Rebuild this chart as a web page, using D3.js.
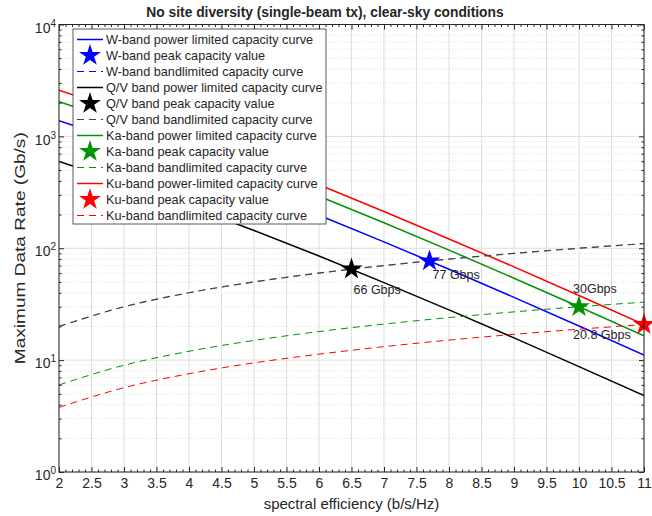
<!DOCTYPE html>
<html><head><meta charset="utf-8">
<script src="https://cdn.jsdelivr.net/npm/d3@7"></script>
<style>body{margin:0;background:#fff} text{font-family:"Liberation Sans",Arial,Helvetica,sans-serif;fill:#262626}</style>
</head><body><svg id="c" width="652" height="516"></svg>
<script>
// ---- data ----
const xValues = [2, 3, 4, 5, 6, 7, 8, 9, 10, 11];
const wPower   = [1379, 887, 552, 334, 197, 114, 64.9, 36.4, 20.2, 11.1];
const wBand    = [20, 30, 40, 50, 60, 70, 80, 90, 100, 110];
const qvPower  = [597, 384, 239, 144, 85.2, 49.3, 28.1, 15.8, 8.75, 4.81];
const qvBand   = [20, 30, 40, 50, 60, 70, 80, 90, 100, 110];
const kaPower  = [2046, 1315, 818, 495, 292, 169, 96.3, 54.0, 30.0, 16.5];
const kaBand   = [6, 9, 12, 15, 18, 21, 24, 27, 30, 33];
const kuPower  = [2581, 1659, 1032, 624, 369, 213, 121, 68.2, 37.8, 20.8];
const kuBand   = [3.78, 5.67, 7.56, 9.45, 11.3, 13.2, 15.1, 17.0, 18.9, 20.8];
const bandNames = ["W-band", "Q/V band", "Ka-band", "Ku-band"];
const bandColors = ["#0000ff", "#000000", "#009400", "#ff0000"];
const dashColors = ["#0000ff", "#444444", "#009400", "#ff0000"];
const peakX = [7.7, 6.5, 10, 11];
const peakY = [77, 65, 30, 20.8];
const peakLabels = ["77 Gbps", "66 Gbps", "30Gbps", "20.8 Gbps"];
const legendLabels = [
  "W-band power limited capacity curve", "W-band peak capacity value", "W-band bandlimited capacity curve",
  "Q/V band power limited capacity curve", "Q/V band peak capacity value", "Q/V band bandlimited capacity curve",
  "Ka-band power limited capacity curve", "Ka-band peak capacity value", "Ka-band bandlimited capacity curve",
  "Ku-band power-limited capacity curve", "Ku-band peak capacity value", "Ku-band bandlimited capacity curve"];
const xTicks = [2, 2.5, 3, 3.5, 4, 4.5, 5, 5.5, 6, 6.5, 7, 7.5, 8, 8.5, 9, 9.5, 10, 10.5, 11];
const yTicks = [1, 10, 100, 1000, 10000];
const titleText = "No site diversity (single-beam tx), clear-sky conditions";
const xLabel = "spectral efficiency (b/s/Hz)";
const yLabel = "Maximum Data Rate (Gb/s)";

// ---- layout ----
const L = 59, R = 644, T = 24.5, B = 472;
const svg = d3.select("#c");
const x = d3.scaleLinear([2, 11], [L, R]);
const y = d3.scaleLog([1, 1e4], [B, T]);

const minorY = [];
for (let e = 0; e < 4; e++) for (let d = 2; d <= 9; d++) minorY.push(d * Math.pow(10, e));
const minorX = d3.range(2, 11.0001, 0.1).map(v => +v.toFixed(2)).filter(v => !xTicks.some(t => Math.abs(t - v) < 1e-6));

// grid
const grid = svg.append("g");
grid.selectAll(".gy2").data(minorY).join("line")
  .attr("x1", L).attr("x2", R).attr("y1", d => y(d)).attr("y2", d => y(d))
  .attr("stroke", "#d4d4d4").attr("stroke-width", 0.8).attr("stroke-dasharray", "1,2");
grid.selectAll(".gy").data(yTicks).join("line")
  .attr("x1", L).attr("x2", R).attr("y1", d => y(d)).attr("y2", d => y(d))
  .attr("stroke", "#dedede").attr("stroke-width", 1);
grid.selectAll(".gx").data(xTicks).join("line")
  .attr("y1", T).attr("y2", B).attr("x1", d => x(d)).attr("x2", d => x(d))
  .attr("stroke", "#dedede").attr("stroke-width", 1);

svg.append("clipPath").attr("id", "clip").append("rect").attr("x", L).attr("y", T).attr("width", R - L).attr("height", B - T);
const plot = svg.append("g").attr("clip-path", "url(#clip)");

const line = d3.line().x((d, i) => x(xValues[i])).y(d => y(d));
const curvedLine = d3.line().x((d, i) => x(xValues[i])).y(d => y(d)).curve(d3.curveMonotoneX);
const powerSeries = [wPower, qvPower, kaPower, kuPower];
const bandSeries = [wBand, qvBand, kaBand, kuBand];

powerSeries.forEach((s, i) => {
  plot.append("path").attr("d", line(s)).attr("fill", "none")
    .attr("stroke", bandColors[i]).attr("stroke-width", 1.5);
});
bandSeries.forEach((s, i) => {
  plot.append("path").attr("d", curvedLine(s)).attr("fill", "none")
    .attr("stroke", dashColors[i]).attr("stroke-width", i === 0 ? 0.5 : (i === 1 ? 1.2 : 1))
    .attr("stroke-dasharray", "7,5");
});

// stars
const star = d3.symbol().type(d3.symbolStar).size(150);
svg.append("g").selectAll("path").data(peakX).join("path")
  .attr("d", star).attr("transform", (d, i) => `translate(${x(d)},${y(peakY[i])})`)
  .attr("fill", (d, i) => bandColors[i]);

// peak labels
const labelOffsets = [[3, 18], [2, 25], [-6, -14], [-71, 14]];
svg.append("g").selectAll("text").data(peakLabels).join("text")
  .attr("x", (d, i) => x(peakX[i]) + labelOffsets[i][0])
  .attr("y", (d, i) => y(peakY[i]) + labelOffsets[i][1])
  .attr("font-size", 12.5).text(d => d);

// axes
const box = svg.append("g");
const gB = box.append("g").attr("transform", `translate(0,${B})`)
  .call(d3.axisBottom(x).tickValues(xTicks).tickSizeInner(-5).tickSizeOuter(0).tickPadding(6).tickFormat(d => d));
box.append("g").attr("transform", `translate(0,${B})`)
  .call(d3.axisBottom(x).tickValues(minorX).tickSizeInner(-2.5).tickSizeOuter(0).tickFormat(""));
box.append("g").attr("transform", `translate(0,${T})`).call(d3.axisTop(x).tickValues(xTicks).tickSizeInner(-5).tickSizeOuter(0).tickFormat(""));
box.append("g").attr("transform", `translate(0,${T})`).call(d3.axisTop(x).tickValues(minorX).tickSizeInner(-2.5).tickSizeOuter(0).tickFormat(""));
const gL = box.append("g").attr("transform", `translate(${L},0)`)
  .call(d3.axisLeft(y).tickValues(yTicks).tickSizeInner(-5).tickSizeOuter(0).tickPadding(3).tickFormat(""));
box.append("g").attr("transform", `translate(${L},0)`).call(d3.axisLeft(y).tickValues(minorY).tickSizeInner(-2.5).tickSizeOuter(0).tickFormat(""));
box.append("g").attr("transform", `translate(${R},0)`).call(d3.axisRight(y).tickValues(yTicks).tickSizeInner(-5).tickSizeOuter(0).tickFormat(""));
box.append("g").attr("transform", `translate(${R},0)`).call(d3.axisRight(y).tickValues(minorY).tickSizeInner(-2.5).tickSizeOuter(0).tickFormat(""));
box.selectAll(".domain").remove();
box.selectAll(".tick line").attr("stroke", "#262626");
gB.selectAll(".tick text").attr("font-size", 14).attr("font-family", null).attr("fill", "#262626");
gL.selectAll(".tick text").attr("font-family", null).attr("fill", "#262626").attr("font-size", 14).attr("dy", "0.55em")
  .each(function (d) {
    const t = d3.select(this);
    t.append("tspan").text("10");
    t.append("tspan").attr("dy", "-0.6em").attr("font-size", 10).text(Math.round(Math.log10(d)));
  });
box.append("rect").attr("x", L).attr("y", T).attr("width", R - L).attr("height", B - T)
  .attr("fill", "none").attr("stroke", "#262626").attr("stroke-width", 1);

// labels
svg.append("text").attr("x", 325).attr("y", 17).attr("text-anchor", "middle")
  .attr("font-size", 13.8).attr("font-weight", "bold").attr("fill", "#000").text(titleText);
svg.append("text").attr("x", (L + R) / 2).attr("y", 509).attr("text-anchor", "middle")
  .attr("font-size", 15).text(xLabel);
svg.append("text").attr("transform", `translate(25,${(T + B) / 2}) rotate(-90)`).attr("text-anchor", "middle")
  .attr("font-size", 15.5).attr("textLength", 232).attr("lengthAdjust", "spacingAndGlyphs").text(yLabel);

// legend
const lg = svg.append("g");
const lgX = 73, lgY = 29, lgW = 253, lgH = 195, rowH = 16;
lg.append("rect").attr("x", lgX).attr("y", lgY).attr("width", lgW).attr("height", lgH)
  .attr("fill", "#fff").attr("stroke", "#333").attr("stroke-width", 0.8);
legendLabels.forEach((lab, k) => {
  const band = Math.floor(k / 3), kind = k % 3;
  const cy = lgY + 10.5 + k * rowH;
  const col = bandColors[band];
  if (kind === 0) {
    lg.append("line").attr("x1", lgX + 4).attr("x2", lgX + 30).attr("y1", cy).attr("y2", cy)
      .attr("stroke", col).attr("stroke-width", 1.5);
  } else if (kind === 1) {
    lg.append("path").attr("d", star).attr("transform", `translate(${lgX + 17},${cy})`).attr("fill", col);
  } else {
    lg.append("line").attr("x1", lgX + 4).attr("x2", lgX + 30).attr("y1", cy).attr("y2", cy)
      .attr("stroke", dashColors[band]).attr("stroke-width", 1).attr("stroke-dasharray", "7,5");
  }
  lg.append("text").attr("x", lgX + 33).attr("y", cy).attr("dy", "0.35em").attr("font-size", 12.7).text(lab);
});
</script></body></html>
